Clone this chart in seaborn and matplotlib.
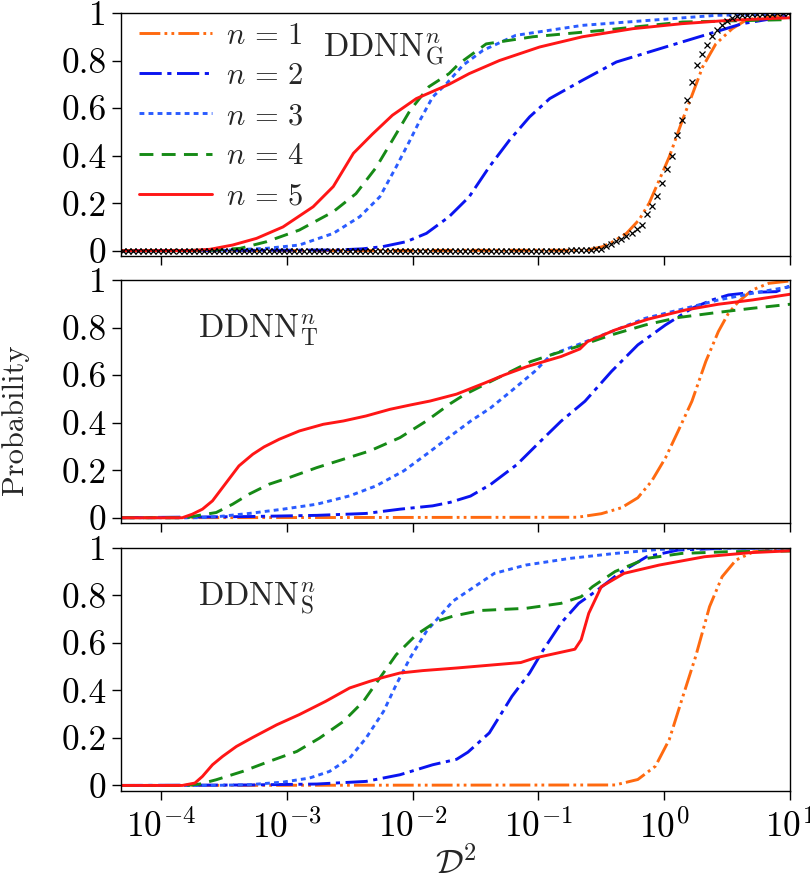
import numpy as np
import pandas as pd
import matplotlib
matplotlib.use("Agg")
import matplotlib.pyplot as plt
from matplotlib.ticker import NullLocator
import seaborn as sns

# ===============================
# Data (log10 of D^2, probability)
# ===============================
series_labels = [r"$n\,=\,1$", r"$n\,=\,2$", r"$n\,=\,3$", r"$n\,=\,4$", r"$n\,=\,5$"]
ytick_values = [0, 0.2, 0.4, 0.6, 0.8, 1]
ytick_labels = ["0", "0.2", "0.4", "0.6", "0.8", "1"]
panel_titles = [r"$\mathrm{DDNN}_{\mathrm{G}}^{n}$",
                r"$\mathrm{DDNN}_{\mathrm{T}}^{n}$",
                r"$\mathrm{DDNN}_{\mathrm{S}}^{n}$"]

# --- panel G ---
g1_logx = [-4.32, -0.62, -0.49, -0.40, -0.30, -0.20, -0.12, -0.04, 0.04, 0.145, 0.225, 0.305, 0.41, 0.54, 0.65, 0.80, 1.0]
g1_prob = [0, 0.002, 0.017, 0.04, 0.073, 0.13, 0.20, 0.297, 0.395, 0.55, 0.66, 0.773, 0.87, 0.934, 0.97, 0.985, 0.99]
g2_logx = [-4.32, -2.6, -2.40, -2.24, -2.05, -1.89, -1.71, -1.55, -1.39, -1.23, -1.07, -0.91, -0.65, -0.38, 0.01, 0.36, 0.62, 0.97, 1.0]
g2_prob = [0, 0.003, 0.008, 0.017, 0.038, 0.073, 0.143, 0.227, 0.353, 0.465, 0.563, 0.64, 0.717, 0.794, 0.857, 0.913, 0.955, 0.986, 0.987]
g3_logx = [-4.32, -3.5, -3.16, -2.90, -2.63, -2.42, -2.26, -2.13, -2.02, -1.94, -1.84, -1.73, -1.60, -1.44, -1.18, -0.65, -0.12, 0.41, 1.0]
g3_prob = [0, 0.002, 0.01, 0.024, 0.073, 0.143, 0.227, 0.353, 0.465, 0.55, 0.647, 0.703, 0.78, 0.843, 0.906, 0.948, 0.969, 0.99, 0.997]
g4_logx = [-4.32, -3.6, -3.37, -3.16, -2.90, -2.63, -2.45, -2.29, -2.16, -2.02, -1.87, -1.71, -1.63, -1.415, -1.045, -0.49, 0.145, 0.97, 1.0]
g4_prob = [0, 0.002, 0.01, 0.038, 0.087, 0.164, 0.24, 0.35, 0.465, 0.59, 0.69, 0.745, 0.787, 0.87, 0.90, 0.927, 0.962, 0.972, 0.973]
g5_logx = [-4.32, -3.75, -3.61, -3.43, -3.24, -3.03, -2.79, -2.63, -2.55, -2.47, -2.32, -2.16, -1.97, -1.71, -1.55, -1.31, -0.99, -0.65, -0.25, 0.14, 0.54, 1.0]
g5_prob = [0, 0.001, 0.006, 0.024, 0.052, 0.10, 0.185, 0.27, 0.34, 0.41, 0.49, 0.57, 0.64, 0.70, 0.745, 0.80, 0.857, 0.90, 0.934, 0.955, 0.97, 0.98]

# reference points (black crosses) in panel G
ref_logx = [-4.30, -4.26, -4.22, -4.18, -4.14, -4.10, -4.06, -4.02,
            -3.98, -3.94, -3.90, -3.86, -3.82, -3.78, -3.74, -3.70, -3.66, -3.62, -3.58, -3.54, -3.50,
            -3.46, -3.42, -3.38, -3.34, -3.30, -3.26, -3.22, -3.18, -3.14, -3.10, -3.06, -3.02,
            -2.98, -2.94, -2.90, -2.86, -2.82, -2.78, -2.74, -2.70, -2.66, -2.62, -2.58, -2.54, -2.50,
            -2.46, -2.42, -2.38, -2.34, -2.30, -2.26, -2.22, -2.18, -2.14, -2.10, -2.06, -2.02,
            -1.98, -1.94, -1.90, -1.86, -1.82, -1.78, -1.74, -1.70, -1.66, -1.62, -1.58, -1.54, -1.50,
            -1.46, -1.42, -1.38, -1.34, -1.30, -1.26, -1.22, -1.18, -1.14, -1.10, -1.06, -1.02,
            -0.98, -0.94, -0.90, -0.86, -0.82, -0.78, -0.74, -0.70, -0.66, -0.62, -0.58, -0.54, -0.50,
            -0.46, -0.42, -0.38, -0.34, -0.30, -0.26, -0.22, -0.18, -0.14, -0.10, -0.06, -0.02,
            0.02, 0.06, 0.10, 0.14, 0.18, 0.22, 0.26, 0.30, 0.34, 0.38, 0.42, 0.46, 0.50,
            0.54, 0.58, 0.62, 0.66, 0.70, 0.74, 0.78, 0.82, 0.86, 0.90, 0.94, 0.98]
ref_prob = ([0.0] * 83 +
            [0, 0, 0, 0, 0, 0, 0.001, 0.001, 0.002, 0.003, 0.004, 0.006, 0.008,
             0.018, 0.028, 0.04, 0.05, 0.063, 0.076, 0.09, 0.11, 0.153, 0.19, 0.23, 0.285] +
            [0.345, 0.40, 0.485, 0.552, 0.635, 0.71, 0.78, 0.826, 0.866, 0.905, 0.928, 0.95, 0.967,
             0.98, 0.986, 0.99, 0.993, 0.994, 0.995, 0.996, 0.997, 0.997, 0.998, 0.998, 0.998])

# --- panel T ---
t1_logx = [-4.32, -0.69, -0.50, -0.34, -0.21, -0.10, 0.01, 0.11, 0.22, 0.33, 0.43, 0.51, 0.59, 0.70, 0.83, 1.0]
t1_prob = [0, 0.002, 0.017, 0.042, 0.084, 0.154, 0.252, 0.364, 0.49, 0.657, 0.783, 0.86, 0.909, 0.958, 0.986, 0.996]
t2_logx = [-4.32, -3.30, -2.76, -2.37, -2.10, -1.84, -1.70, -1.54, -1.38, -1.17, -1.01, -0.82, -0.63, -0.42, -0.21, 0.01, 0.22, 0.38, 0.51, 0.70, 0.89, 1.0]
t2_prob = [0, 0.005, 0.01, 0.018, 0.036, 0.05, 0.065, 0.091, 0.14, 0.224, 0.308, 0.406, 0.49, 0.615, 0.727, 0.811, 0.881, 0.916, 0.937, 0.948, 0.951, 0.975]
t3_logx = [-4.32, -3.70, -3.56, -3.30, -3.03, -2.76, -2.50, -2.29, -2.07, -1.89, -1.70, -1.54, -1.38, -1.22, -1.03, -0.90, -0.69, -0.42, -0.15, 0.17, 0.43, 0.70, 1.0]
t3_prob = [0, 0, 0.004, 0.018, 0.036, 0.057, 0.092, 0.134, 0.197, 0.267, 0.343, 0.406, 0.462, 0.531, 0.615, 0.685, 0.727, 0.783, 0.839, 0.881, 0.916, 0.944, 0.972]
t4_logx = [-4.32, -3.80, -3.72, -3.56, -3.43, -3.30, -3.14, -2.98, -2.76, -2.55, -2.34, -2.10, -1.89, -1.70, -1.59, -1.38, -1.22, -1.06, -0.90, -0.69, -0.42, -0.15, 0.11, 0.43, 0.70, 1.0]
t4_prob = [0, 0, 0.008, 0.022, 0.057, 0.099, 0.141, 0.169, 0.211, 0.246, 0.281, 0.337, 0.407, 0.48, 0.517, 0.573, 0.615, 0.657, 0.685, 0.72, 0.769, 0.811, 0.842, 0.864, 0.881, 0.898]
t5_logx = [-4.32, -3.83, -3.75, -3.67, -3.59, -3.48, -3.38, -3.27, -3.18, -3.06, -2.90, -2.71, -2.55, -2.37, -2.18, -2.02, -1.86, -1.65, -1.43, -1.27, -1.09, -0.82, -0.67, -0.61, -0.39, -0.13, 0.17, 0.43, 0.70, 1.0]
t5_prob = [0, 0, 0.015, 0.036, 0.071, 0.148, 0.218, 0.267, 0.298, 0.33, 0.365, 0.393, 0.407, 0.428, 0.456, 0.474, 0.491, 0.52, 0.566, 0.601, 0.636, 0.678, 0.71, 0.741, 0.79, 0.835, 0.874, 0.898, 0.916, 0.94]

# --- panel S ---
s1_logx = [-4.32, -0.39, -0.21, -0.07, 0.04, 0.14, 0.25, 0.36, 0.46, 0.57, 0.71, 1.0]
s1_prob = [0, 0.002, 0.025, 0.081, 0.193, 0.361, 0.543, 0.752, 0.878, 0.948, 0.983, 0.997]
s2_logx = [-4.32, -3.30, -2.76, -2.37, -2.10, -1.84, -1.65, -1.56, -1.39, -1.21, -1.07, -0.96, -0.82, -0.68, -0.53, -0.36, -0.14, 0.11, 0.50, 1.0]
s2_prob = [0, 0.002, 0.006, 0.017, 0.045, 0.087, 0.11, 0.14, 0.221, 0.375, 0.473, 0.571, 0.683, 0.766, 0.822, 0.892, 0.962, 0.99, 0.998, 0.999]
s3_logx = [-4.32, -3.60, -3.30, -3.03, -2.82, -2.66, -2.50, -2.37, -2.23, -2.13, -2.02, -1.89, -1.68, -1.35, -1.10, -0.75, -0.39, -0.04, 0.32, 1.0]
s3_prob = [0, 0, 0.003, 0.014, 0.031, 0.059, 0.115, 0.199, 0.312, 0.424, 0.536, 0.648, 0.775, 0.892, 0.927, 0.955, 0.976, 0.993, 0.998, 0.999]
s4_logx = [-4.32, -3.80, -3.69, -3.56, -3.35, -3.14, -2.92, -2.74, -2.55, -2.39, -2.26, -2.13, -1.97, -1.81, -1.68, -1.46, -1.10, -0.82, -0.66, -0.57, -0.39, -0.14, 0.14, 0.50, 1.0]
s4_prob = [0, 0, 0.006, 0.024, 0.059, 0.101, 0.143, 0.199, 0.269, 0.354, 0.452, 0.55, 0.634, 0.69, 0.712, 0.736, 0.745, 0.766, 0.794, 0.836, 0.90, 0.955, 0.976, 0.983, 0.986]
s5_logx = [-4.32, -3.83, -3.73, -3.67, -3.59, -3.51, -3.40, -3.27, -3.08, -2.90, -2.69, -2.50, -2.34, -2.23, -2.10, -1.92, -1.65, -1.14, -1.03, -0.71, -0.66, -0.60, -0.50, -0.32, -0.04, 0.32, 0.68, 1.0]
s5_prob = [0, 0, 0.01, 0.038, 0.087, 0.122, 0.164, 0.202, 0.255, 0.298, 0.354, 0.41, 0.438, 0.455, 0.473, 0.483, 0.494, 0.517, 0.536, 0.573, 0.613, 0.724, 0.836, 0.892, 0.927, 0.962, 0.979, 0.987]

panels = [
    [(g1_logx, g1_prob), (g2_logx, g2_prob), (g3_logx, g3_prob), (g4_logx, g4_prob), (g5_logx, g5_prob)],
    [(t1_logx, t1_prob), (t2_logx, t2_prob), (t3_logx, t3_prob), (t4_logx, t4_prob), (t5_logx, t5_prob)],
    [(s1_logx, s1_prob), (s2_logx, s2_prob), (s3_logx, s3_prob), (s4_logx, s4_prob), (s5_logx, s5_prob)],
]

# ===============================
# Style
# ===============================
sns.set_theme(style="ticks")
plt.rcParams["font.family"] = ["cmr10", "DejaVu Serif"]
plt.rcParams["mathtext.fontset"] = "cm"
plt.rcParams["axes.formatter.use_mathtext"] = True
plt.rcParams["lines.scale_dashes"] = False
plt.rcParams["axes.edgecolor"] = "black"
plt.rcParams["axes.linewidth"] = 1.0

palette = dict(zip(series_labels, ["#ff6a10", "#0a14f0", "#2a5cff", "#168a16", "#ff1616"]))
dashes = dict(zip(series_labels, [(15, 3, 2, 3, 2, 3), (16, 4, 3, 4), (3.5, 3), (10, 6), ""]))

# ===============================
# Figure
# ===============================
fig = plt.figure(figsize=(8.1, 8.9), dpi=100)
panel_bottoms = [0.7124, 0.4124, 0.1116]
title_pos = [(0.302, 0.818), (0.1155, 0.762), (0.1155, 0.759)]

for i, (series, bottom) in enumerate(zip(panels, panel_bottoms)):
    ax = fig.add_axes([0.1494, bottom, 0.826, 0.273])

    frames = []
    for label, (lx, pr) in zip(series_labels, series):
        frames.append(pd.DataFrame({"d2": 10.0 ** np.array(lx), "prob": pr, "n": label}))
    df = pd.concat(frames, ignore_index=True)

    sns.lineplot(data=df, x="d2", y="prob", hue="n", style="n",
                 hue_order=series_labels, style_order=series_labels,
                 palette=palette, dashes=dashes, estimator=None, sort=False,
                 linewidth=2.1, legend=False, ax=ax)

    ax.set_xscale("log")
    ax.set_xlim(4.82e-5, 10)
    ax.set_ylim(-0.022, 1.0)
    ax.xaxis.set_minor_locator(NullLocator())
    ax.set_yticks(ytick_values, labels=ytick_labels)
    ax.tick_params(axis="both", which="major", direction="out", length=6.5,
                   width=1, colors="black", labelsize=25.5)
    ax.tick_params(axis="x", pad=7)
    ax.tick_params(axis="y", pad=4)
    ax.set_xlabel("")
    ax.set_ylabel("")
    for sp in ax.spines.values():
        sp.set_visible(True)
        sp.set_color("black")

    if i == 0:
        handles = list(ax.lines[:5])
        ax.plot(10.0 ** np.array(ref_logx), ref_prob, linestyle="none", marker="x",
                color="black", markersize=4.5, markeredgewidth=0.9, zorder=5)
        ax.legend(handles=handles, labels=series_labels, loc="upper left",
                  bbox_to_anchor=(0.004, 1.025), frameon=False, fontsize=22,
                  handlelength=2.4, handletextpad=0.45, labelspacing=0.42,
                  borderaxespad=0.1)
    if i < 2:
        ax.tick_params(axis="x", labelbottom=False)

    ax.text(title_pos[i][0], title_pos[i][1], panel_titles[i], transform=ax.transAxes,
            fontsize=24, va="baseline", ha="left")

fig.text(0.018, 1 - 420 / 890, "Probability", rotation=90, fontsize=22,
         ha="center", va="center")
fig.text(0.562, 1 - 864 / 890, r"$\mathcal{D}^2$", fontsize=25, ha="center", va="center")

fig.savefig("out.png", dpi=100)
